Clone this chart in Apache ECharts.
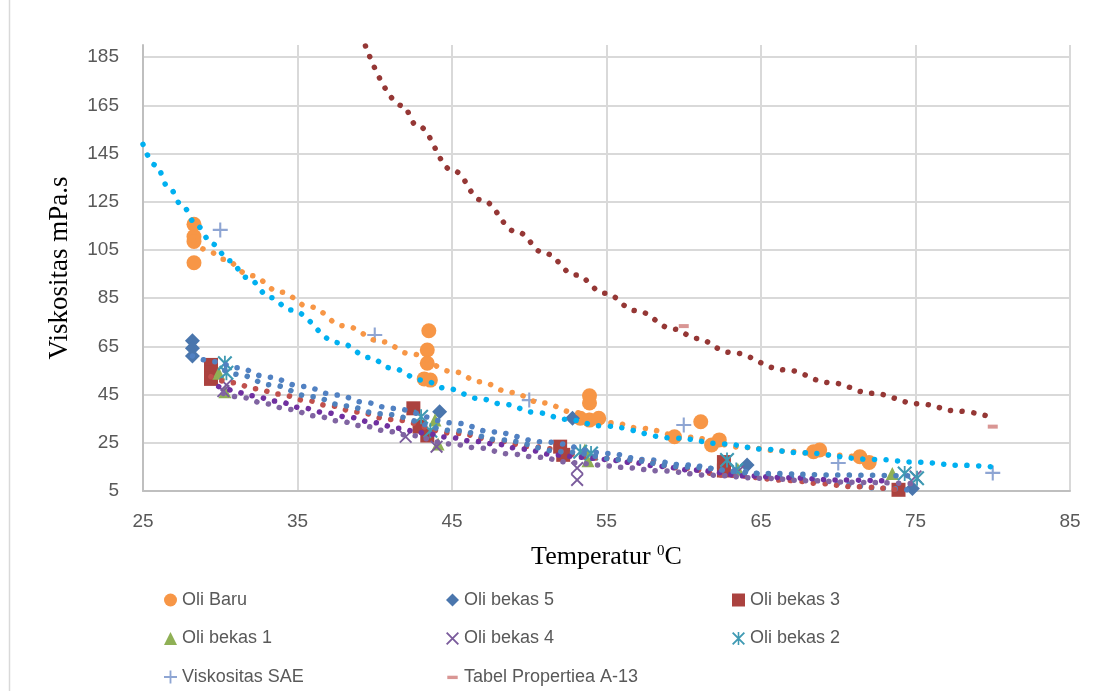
<!DOCTYPE html>
<html>
<head>
<meta charset="utf-8">
<script src="https://cdn.jsdelivr.net/npm/echarts@6/dist/echarts.min.js"></script>
<style>
  html, body { margin: 0; padding: 0; background: #fff; }
  #chart { width: 1102px; height: 691px; }
</style>
</head>
<body>
<div id="chart"></div>
<script>
// --- measured points (temperature °C, viscosity mPa.s) ---
const tempBaru = [28.3, 28.3, 28.3, 28.3, 43.5, 43.4, 43.4, 43.2, 43.6, 53.9, 53.9, 53.3, 53.9, 54.5, 59.4, 61.1, 61.8, 62.3, 68.4, 68.8, 71.4, 72.0]
const viscBaru = [115.6, 110.5, 108.5, 99.7, 71.5, 63.5, 58.0, 51.5, 51.0, 44.5, 41.5, 35.2, 34.4, 35.2, 27.5, 33.7, 24.1, 26.2, 21.3, 22.0, 19.2, 16.8]

const tempBekas5 = [28.2, 28.2, 28.2, 44.2, 52.8, 64.1, 74.8]
const viscBekas5 = [67.3, 64.2, 61.0, 37.9, 35.2, 15.8, 6.0]

const tempBekas3 = [29.4, 29.4, 29.4, 42.5, 42.9, 43.4, 52.0, 52.2, 62.6, 62.6, 73.9]
const viscBekas3 = [57.3, 54.0, 51.5, 39.3, 31.7, 28.0, 23.4, 20.0, 17.0, 13.5, 5.5]

const tempBekas1 = [29.9, 30.3, 43.9, 44.1, 53.6, 53.8, 63.5, 73.5]
const viscBekas1 = [53.8, 46.2, 34.4, 24.5, 22.0, 17.5, 14.0, 12.3]

const tempBekas4 = [30.2, 30.4, 42.0, 44.0, 53.1, 53.1, 63.5, 75.0]
const viscBekas4 = [46.5, 49.0, 27.5, 23.4, 14.5, 9.6, 13.0, 11.0]

const tempBekas2 = [30.3, 30.4, 43.0, 43.6, 53.3, 54.0, 62.8, 63.4, 74.3, 75.1]
const viscBekas2 = [58.0, 54.0, 35.8, 30.0, 21.3, 20.6, 17.9, 13.7, 12.3, 10.3]

const tempSae = [30, 40, 50, 60, 70, 80]
const viscSae = [113.3, 69.7, 42.7, 32.4, 16.6, 12.5]

const tempA13 = [60, 80]
const viscA13 = [73.4, 31.7]

// --- trend curves ---
const trendBaruX = [28.3, 29.2, 30.2, 32.0, 33.9, 35.8, 38.0, 40.5, 42.2, 45.1, 46.8, 48.8, 50.8, 53.0, 55.4, 57.2, 60.2, 63.9, 66.3, 69.5, 72.0]
const trendBaruY = [108.5, 104.7, 101.1, 94.3, 87.5, 81.4, 73.5, 66.9, 62.1, 54.5, 50.3, 45.9, 41.6, 37.5, 33.3, 31.0, 27.3, 23.1, 21.6, 19.9, 18.6]

const trendSaeX = [25.0, 25.8, 26.7, 27.6, 28.5, 29.5, 30.6, 31.7, 33.3, 34.5, 37.7, 39.7, 41.0, 43.1, 44.6, 46.8, 48.3, 50.5, 52.4, 54.7, 59.5, 62.6, 65.1, 67.4, 72.3, 75.3, 77.8, 80.0]
const trendSaeY = [148.8, 140.2, 130.5, 122.7, 114.9, 107.4, 100.5, 93.6, 85.2, 80.1, 66.5, 60.3, 56.1, 51.0, 47.6, 43.3, 41.0, 37.5, 34.7, 32.0, 26.9, 24.5, 22.4, 20.9, 18.1, 16.9, 15.7, 15.0]

const trendA13X = [39.4, 41.8, 42.7, 45.1, 46.9, 49.2, 51.0, 53.0, 54.9, 56.9, 59.4, 60.8, 63.0, 66.6, 69.5, 72.2, 75.2, 77.8, 80.0]
const trendA13Y = [189.6, 164.8, 156.8, 137.8, 125.7, 112.5, 103.6, 94.6, 87.0, 79.8, 72.1, 68.3, 62.5, 55.2, 49.9, 45.5, 41.2, 38.1, 35.5]

const trend5X = [28.2, 29.7, 31.1, 33.1, 35.3, 37.5, 39.5, 41.0, 45.3, 47.6, 50.9, 55.1, 57.4, 60.1, 63.0, 66.8, 70.0, 72.7, 74.8]
const trend5Y = [61.0, 58.6, 56.1, 52.2, 48.4, 44.8, 41.6, 39.3, 33.1, 29.5, 25.4, 20.6, 18.1, 15.8, 13.5, 10.5, 8.0, 6.2, 5.2]

const trend2X = [30.3, 31.1, 33.3, 35.9, 38.1, 40.3, 45.3, 48.1, 52.2, 56.0, 60.0, 65.0, 70.0, 75.1]
const trend2Y = [55.0, 53.4, 49.0, 44.1, 40.3, 37.0, 30.0, 26.2, 21.3, 18.0, 15.0, 12.3, 11.6, 11.2]

const trend3X = [29.4, 30.8, 32.3, 33.8, 35.6, 37.1, 38.8, 41.0, 45.2, 48.1, 50.0, 54.6, 56.7, 60.0, 62.6, 67.1, 68.6, 71.0, 73.9]
const trend3Y = [52.4, 49.9, 47.4, 45.2, 42.5, 40.3, 37.8, 34.7, 28.9, 25.7, 23.4, 18.6, 17.6, 14.5, 11.6, 9.3, 8.2, 6.8, 5.5]

const trend1X = [29.9, 30.6, 32.1, 33.6, 35.3, 36.8, 38.3, 40.0, 41.5, 43.0, 44.8, 46.3, 47.8, 49.5, 51.8, 53.3, 55.0, 56.5, 58.5, 60.5, 64.3, 66.7, 69.9, 73.5]
const trend1Y = [48.3, 46.9, 44.5, 42.3, 39.5, 37.5, 35.6, 33.3, 31.0, 29.2, 27.3, 25.7, 24.5, 22.4, 19.9, 19.0, 18.1, 16.9, 15.2, 13.7, 11.2, 10.5, 9.6, 9.1]

const trend4X = [30.2, 31.5, 32.9, 34.4, 36.2, 37.7, 39.2, 41.0, 42.0, 45.0, 46.5, 48.9, 50.5, 52.9, 54.5, 56.0, 58.4, 61.6, 65.0, 68.0, 71.0, 75.0]
const trend4Y = [45.5, 43.7, 41.2, 38.9, 36.1, 34.0, 32.0, 29.6, 28.3, 24.5, 23.0, 20.3, 19.0, 16.7, 15.8, 14.8, 13.4, 11.6, 10.3, 9.3, 8.6, 8.0]

// axis ticks
const xTicks = { min: 25, max: 85, step: 10 }
const yTicks = { min: 5, max: 190, step: 20 }

const zip = (xs, ys) => xs.map((x, i) => [x, ys[i]])

const SANS = 'Liberation Sans'
const SERIF = 'Liberation Serif'
const GREY = '#595959'

const PLUS = 'path://M4.3,0h1.4v10h-1.4zM0,4.3h10v1.4h-10z'
const CROSS = 'path://M0,1L1,0L10,9L9,10ZM9,0L10,1L1,10L0,9Z'
const STAR = 'path://M0,1L1,0L10,9L9,10ZM9,0L10,1L1,10L0,9ZM4.4,0h1.2v10h-1.2Z'
const DASH_ICON = 'path://M0,0L0,0M10,10L10,10M1,4h8v2.6h-8z'

function points(name, xs, ys, symbol, size, color) {
  return {
    name, type: 'scatter', data: zip(xs, ys),
    symbol, symbolSize: size,
    itemStyle: { color, opacity: 1 },
    z: 2,
  }
}

// Excel-style round-dot trendline
function trend(name, xs, ys, color) {
  return {
    name, type: 'line', data: zip(xs, ys),
    smooth: 0.4, smoothMonotone: 'x',
    showSymbol: false, symbol: 'none', silent: true,
    lineStyle: { color, width: 5.5, type: [0.1, 11.5], cap: 'round' },
    z: 3,
  }
}

const legendBase = {
  orient: 'vertical',
  padding: 0,
  itemWidth: 13,
  itemHeight: 13,
  itemGap: 18.5,
  selectedMode: false,
  textStyle: { fontFamily: SANS, fontSize: 18, color: GREY, lineHeight: 20 },
}

const chart = echarts.init(document.getElementById('chart'))
chart.setOption({
  animation: false,
  backgroundColor: '#fff',
  graphic: [{
    type: 'line', shape: { x1: 9.5, y1: 0, x2: 9.5, y2: 691 },
    style: { stroke: '#d9d9d9', lineWidth: 1.5 },
  }],
  grid: { left: 143, right: 32, top: 45, bottom: 200 },
  xAxis: {
    type: 'value',
    min: xTicks.min, max: xTicks.max, interval: xTicks.step,
    name: 'Temperatur {s|0}C',
    nameLocation: 'middle',
    nameGap: 53,
    nameTextStyle: {
      fontFamily: SERIF, fontSize: 26, color: '#000',
      rich: { s: { fontFamily: SERIF, fontSize: 15, verticalAlign: 'top', color: '#000', padding: [0, 0, 8, 0] } },
    },
    axisLine: { onZero: false, lineStyle: { color: '#bfbfbf', width: 2 } },
    axisTick: { show: false },
    axisLabel: { fontFamily: SANS, fontSize: 19, color: GREY, margin: 21 },
    splitLine: { lineStyle: { color: '#d9d9d9', width: 2 } },
  },
  yAxis: {
    type: 'value',
    min: yTicks.min, max: yTicks.max, interval: yTicks.step,
    name: 'Viskositas mPa.s',
    nameLocation: 'middle',
    nameGap: 70,
    nameTextStyle: { fontFamily: SERIF, fontSize: 27, color: '#000' },
    axisLine: { show: true, onZero: false, lineStyle: { color: '#bfbfbf', width: 2 } },
    axisTick: { show: false },
    axisLabel: { fontFamily: SANS, fontSize: 19, color: GREY, margin: 24, showMaxLabel: false },
    splitLine: { showMaxLine: false, lineStyle: { color: '#d9d9d9', width: 2 } },
  },
  legend: [
    { ...legendBase, left: 164, top: 590, data: ['Oli Baru', 'Oli bekas 1', 'Viskositas SAE'] },
    { ...legendBase, left: 446, top: 590, data: ['Oli bekas 5', 'Oli bekas 4', { name: 'Tabel Propertiea A-13', icon: DASH_ICON }] },
    { ...legendBase, left: 732, top: 590, data: ['Oli bekas 3', 'Oli bekas 2'] },
  ],
  series: [
    points('Oli Baru', tempBaru, viscBaru, 'circle', 15, '#f79646'),
    points('Oli bekas 5', tempBekas5, viscBekas5, 'diamond', 15, '#4a76ad'),
    points('Oli bekas 3', tempBekas3, viscBekas3, 'rect', 14, '#ab423f'),
    points('Oli bekas 1', tempBekas1, viscBekas1, 'triangle', 13, '#8fb055'),
    points('Oli bekas 4', tempBekas4, viscBekas4, CROSS, 13, '#7a5b9c'),
    points('Oli bekas 2', tempBekas2, viscBekas2, STAR, 15, '#3f9ab3'),
    points('Viskositas SAE', tempSae, viscSae, PLUS, 15, '#8ea5d3'),
    points('Tabel Propertiea A-13', tempA13, viscA13, 'rect', [10, 4], '#d99694'),

    trend('trend Oli Baru', trendBaruX, trendBaruY, '#f79646'),
    trend('trend Oli bekas 5', trend5X, trend5Y, '#5181c2'),
    trend('trend Oli bekas 3', trend3X, trend3Y, '#c0504d'),
    trend('trend Oli bekas 1', trend1X, trend1Y, '#7030a0'),
    trend('trend Oli bekas 4', trend4X, trend4Y, '#8064a2'),
    trend('trend Oli bekas 2', trend2X, trend2Y, '#4f81bd'),
    trend('trend Viskositas SAE', trendSaeX, trendSaeY, '#00b0f0'),
    trend('trend Tabel Propertiea A-13', trendA13X, trendA13Y, '#953735'),
  ],
})
</script>
</body>
</html>
